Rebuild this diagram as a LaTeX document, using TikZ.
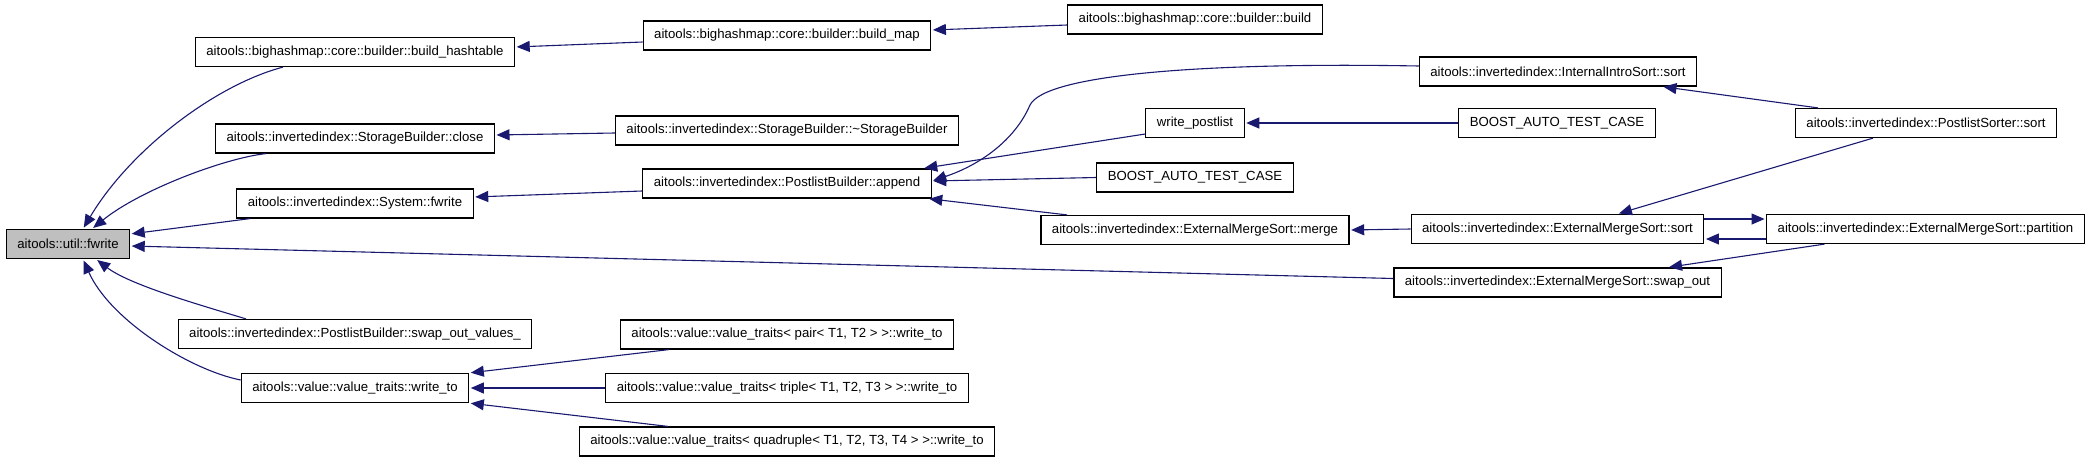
\documentclass[tikz,border=0pt]{standalone}
\usepackage{fontspec}
\setmainfont{Liberation Sans}
\usepackage{tikz}
\usetikzlibrary{arrows.meta}
\definecolor{edgeblue}{RGB}{25,25,112}
\definecolor{curgray}{RGB}{191,191,191}
\tikzset{
  fnbox/.style={draw,fill=#1,line width=1.2pt,minimum height=29pt,inner xsep=11pt,inner ysep=0pt,font=\fontsize{13.2}{15}\selectfont},
  fnbox/.default=white,
}

\begin{document}
\begin{tikzpicture}[x=1pt,y=-1pt,
    callarr/.style={-{Triangle[length=13pt,width=11pt]},edgeblue,line width=1.1pt,shorten >=1.5pt},
  ]
  \useasboundingbox (0,0) rectangle (2088,461);

  % the function itself
  \node[fnbox=curgray] (fwrite) at (68,244) {aitools::util::fwrite};

  % direct callers
  \node[fnbox] (bhash) at (355,52) {aitools::bighashmap::core::builder::build\_hashtable};
  \node[fnbox] (sbclose) at (355,138.5) {aitools::invertedindex::StorageBuilder::close};
  \node[fnbox] (sysfwrite) at (355,203.5) {aitools::invertedindex::System::fwrite};
  \node[fnbox] (swapvals) at (355,334) {aitools::invertedindex::PostlistBuilder::swap\_out\_values\_};
  \node[fnbox] (writeto) at (355,388) {aitools::value::value\_traits::write\_to};

  % second rank
  \node[fnbox] (bmap) at (787,35.5) {aitools::bighashmap::core::builder::build\_map};
  \node[fnbox] (sbdtor) at (787,130.5) {aitools::invertedindex::StorageBuilder::\textasciitilde StorageBuilder};
  \node[fnbox] (append) at (787,183.5) {aitools::invertedindex::PostlistBuilder::append};
  \node[fnbox] (pair) at (787,334.5) {aitools::value::value\_traits< pair< T1, T2 > >::write\_to};
  \node[fnbox] (triple) at (787,388) {aitools::value::value\_traits< triple< T1, T2, T3 > >::write\_to};
  \node[fnbox] (quad) at (787,441.5) {aitools::value::value\_traits< quadruple< T1, T2, T3, T4 > >::write\_to};

  % third rank
  \node[fnbox] (build) at (1195,19.5) {aitools::bighashmap::core::builder::build};
  \node[fnbox] (wpost) at (1195,123) {write\_postlist};
  \node[fnbox] (boostb) at (1195,177.5) {BOOST\_AUTO\_TEST\_CASE};
  \node[fnbox] (merge) at (1195,230) {aitools::invertedindex::ExternalMergeSort::merge};

  % fourth rank
  \node[fnbox] (introsort) at (1558,71.5) {aitools::invertedindex::InternalIntroSort::sort};
  \node[fnbox] (boosta) at (1557,123) {BOOST\_AUTO\_TEST\_CASE};
  \node[fnbox] (essort) at (1557.5,229) {aitools::invertedindex::ExternalMergeSort::sort};
  \node[fnbox] (swapout) at (1557.5,282.5) {aitools::invertedindex::ExternalMergeSort::swap\_out};

  % fifth rank
  \node[fnbox] (psort) at (1926,123) {aitools::invertedindex::PostlistSorter::sort};
  \node[fnbox] (partition) at (1925.5,229) {aitools::invertedindex::ExternalMergeSort::partition};

  % calls into fwrite
  \draw[callarr] ([xshift=-72pt]bhash.south) .. controls (215,85) and (130,150) .. ([xshift=15pt]fwrite.north);
  \draw[callarr] ([xshift=-89pt]sbclose.south) .. controls (225,158) and (140,190) .. ([xshift=24pt]fwrite.north);
  \draw[callarr] ([xshift=-105pt]sysfwrite.south) -- ([yshift=10pt]fwrite.east);
  \draw[callarr] ([yshift=4pt]swapout.west) -- ([yshift=-2pt]fwrite.east);
  \draw[callarr] ([xshift=-109pt]swapvals.north) .. controls (200,305) and (130,285) .. ([xshift=28pt]fwrite.south);
  \draw[callarr] ([yshift=8pt]writeto.west) .. controls (190,370) and (110,320) .. ([xshift=15pt]fwrite.south);

  % second rank calls
  \draw[callarr] ([yshift=-6.5pt]bmap.west) -- ([yshift=5pt]bhash.east);
  \draw[callarr] ([yshift=-2.5pt]sbdtor.west) -- ([yshift=3.5pt]sbclose.east);
  \draw[callarr] ([yshift=-7.5pt]append.west) -- ([yshift=6.5pt]sysfwrite.east);
  \draw[callarr] (pair.south west) ++(49pt,0) -- (writeto.north east);
  \draw[callarr] (triple.west) -- (writeto.east);
  \draw[callarr] ([xshift=-119pt]quad.north) -- (writeto.south east);

  % third rank calls
  \draw[callarr] ([yshift=-5.5pt]build.west) -- ([yshift=5.5pt]bmap.east);
  \draw[callarr] ([yshift=-11pt]wpost.west) -- ([xshift=-9pt]append.north east);
  \draw[callarr] (boostb.west) -- ([yshift=2.5pt]append.east);
  \draw[callarr] ([xshift=-128pt]merge.north) -- ([xshift=-4pt]append.south east);

  % fourth rank calls
  \draw[callarr] ([yshift=5.5pt]introsort.west) .. controls (1200,62) and (1045,75) .. (1030,105)
    .. controls (1015,140) and (980,165) .. ([yshift=2.5pt]append.east);
  \draw[callarr] (boosta.west) -- (wpost.east);
  \draw[callarr] (essort.west) -- (merge.east);

  % fifth rank calls
  \draw[callarr] ([xshift=-108pt]psort.north) -- ([xshift=104pt]introsort.south);
  \draw[callarr] ([xshift=-53pt]psort.south) -- ([xshift=60pt]essort.north);
  \draw[callarr] ([yshift=10pt]essort.east) -- ([yshift=10pt]partition.west);
  \draw[callarr] ([yshift=-10pt]partition.west) -- ([yshift=-10pt]essort.east);
  \draw[callarr] ([xshift=-101pt]partition.south) -- ([xshift=110pt]swapout.north);
\end{tikzpicture}
\end{document}
